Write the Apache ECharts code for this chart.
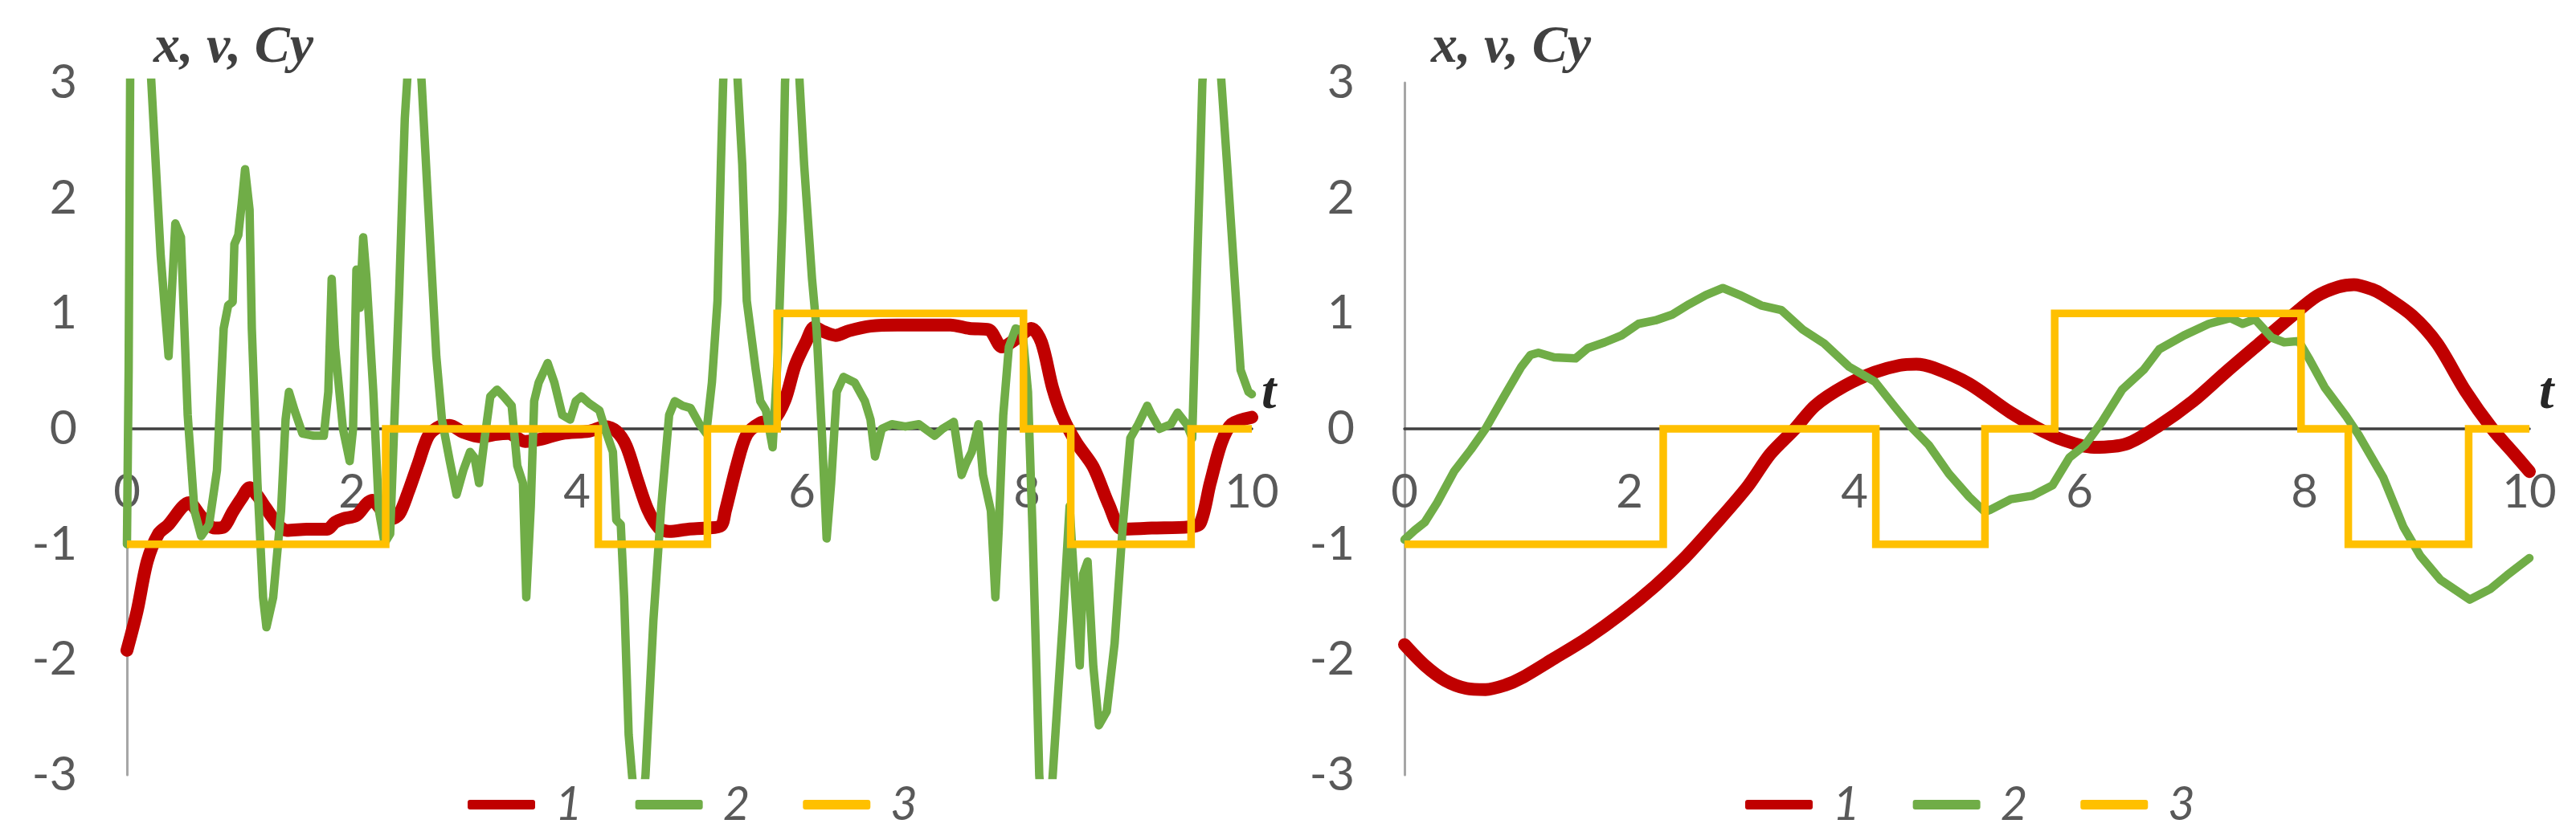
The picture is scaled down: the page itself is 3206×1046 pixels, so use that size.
<!DOCTYPE html>
<html><head><meta charset="utf-8">
<script src="https://cdn.jsdelivr.net/npm/echarts@6/dist/echarts.min.js"></script>
<style>html,body{margin:0;padding:0;background:#fff}#c{width:3206px;height:1046px}</style>
</head><body><div id="c"></div>
<script>
// ---- data (t, value) ----
const seriesNames = ['1', '2', '3'];
const xTickStep = 2;
const yTickStep = 1;

// Left panel, series 1 (x)
const leftX = [[0,-1.92],[0.09,-1.58],[0.18,-1.15],[0.28,-0.91],[0.37,-0.83],[0.49,-0.68],[0.55,-0.64],[0.66,-0.76],[0.78,-0.86],[0.86,-0.85],[0.94,-0.72],[1.02,-0.6],[1.09,-0.51],[1.16,-0.58],[1.23,-0.68],[1.35,-0.84],[1.42,-0.88],[1.6,-0.87],[1.78,-0.87],[1.85,-0.81],[1.92,-0.78],[2.04,-0.75],[2.13,-0.65],[2.18,-0.62],[2.26,-0.7],[2.35,-0.78],[2.42,-0.74],[2.5,-0.55],[2.59,-0.3],[2.68,-0.06],[2.78,0.02],[2.87,0.03],[2.99,-0.03],[3.15,-0.07],[3.27,-0.05],[3.39,-0.04],[3.54,-0.11],[3.68,-0.09],[3.87,-0.04],[4.11,-0.02],[4.25,0.02],[4.35,-0.02],[4.44,-0.15],[4.54,-0.45],[4.63,-0.7],[4.73,-0.86],[4.82,-0.89],[4.99,-0.87],[5.15,-0.86],[5.28,-0.84],[5.32,-0.71],[5.42,-0.32],[5.51,-0.05],[5.63,0.05],[5.75,0.08],[5.85,0.25],[5.94,0.55],[6.04,0.76],[6.11,0.88],[6.2,0.84],[6.3,0.81],[6.42,0.85],[6.61,0.89],[6.85,0.9],[7.32,0.9],[7.49,0.87],[7.66,0.86],[7.78,0.71],[7.92,0.79],[8.04,0.87],[8.13,0.75],[8.23,0.35],[8.32,0.1],[8.44,-0.12],[8.59,-0.33],[8.73,-0.66],[8.85,-0.87],[9.11,-0.86],[9.44,-0.85],[9.54,-0.82],[9.63,-0.47],[9.73,-0.12],[9.82,0.04],[10,0.1]];

// Left panel, series 2 (v)
const leftV = [[0,-1.0],[0.015,0.5],[0.03,3.3],[0.1,4.2],[0.2,3.3],[0.217,3.0],[0.30,1.5],[0.37,0.63],[0.43,1.78],[0.48,1.66],[0.54,0.12],[0.6,-0.71],[0.66,-0.93],[0.73,-0.83],[0.8,-0.36],[0.86,0.87],[0.9,1.07],[0.94,1.1],[0.955,1.6],[0.99,1.68],[1.02,1.95],[1.05,2.25],[1.09,1.9],[1.11,0.87],[1.16,-0.47],[1.21,-1.46],[1.24,-1.72],[1.3,-1.46],[1.37,-0.71],[1.41,0.08],[1.44,0.32],[1.49,0.16],[1.56,-0.04],[1.66,-0.06],[1.75,-0.06],[1.79,0.32],[1.82,1.3],[1.85,0.71],[1.92,0],[1.98,-0.28],[2.01,0],[2.04,1.38],[2.07,1.05],[2.10,1.66],[2.13,1.3],[2.19,0.32],[2.24,-0.71],[2.29,-0.99],[2.34,-0.91],[2.42,1.18],[2.47,2.69],[2.49,3.0],[2.55,4.0],[2.62,3.0],[2.68,1.9],[2.75,0.63],[2.8,0.08],[2.87,-0.28],[2.93,-0.57],[2.99,-0.36],[3.05,-0.2],[3.09,-0.25],[3.13,-0.47],[3.18,-0.08],[3.23,0.28],[3.29,0.34],[3.35,0.28],[3.42,0.2],[3.47,-0.32],[3.52,-0.47],[3.55,-1.46],[3.59,-0.67],[3.62,0.24],[3.66,0.4],[3.74,0.57],[3.8,0.4],[3.87,0.12],[3.94,0.08],[3.99,0.24],[4.04,0.28],[4.11,0.22],[4.2,0.16],[4.25,0],[4.32,-0.2],[4.35,-0.79],[4.39,-0.83],[4.42,-1.46],[4.46,-2.65],[4.49,-3.0],[4.55,-3.6],[4.61,-3.0],[4.68,-1.66],[4.75,-0.67],[4.82,0.12],[4.87,0.24],[4.94,0.2],[5.01,0.18],[5.09,0.04],[5.15,-0.04],[5.2,0.4],[5.25,1.11],[5.28,2.29],[5.3,3.0],[5.36,4.2],[5.43,3.0],[5.47,2.29],[5.51,1.11],[5.59,0.51],[5.63,0.24],[5.68,0.16],[5.74,-0.16],[5.79,0.71],[5.83,1.9],[5.85,3.0],[5.92,4.2],[5.98,3.0],[6.02,2.29],[6.09,1.3],[6.13,0.87],[6.18,-0.08],[6.22,-0.95],[6.26,-0.47],[6.31,0.32],[6.37,0.45],[6.47,0.4],[6.56,0.24],[6.61,0.08],[6.65,-0.24],[6.71,0],[6.8,0.04],[6.92,0.02],[7.04,0.04],[7.18,-0.06],[7.25,0],[7.35,0.06],[7.42,-0.4],[7.46,-0.3],[7.51,-0.2],[7.57,0.04],[7.61,-0.4],[7.68,-0.71],[7.72,-1.46],[7.75,-0.87],[7.79,0.12],[7.84,0.71],[7.9,0.87],[7.96,0.85],[8.01,0.32],[8.05,-0.87],[8.09,-2.25],[8.11,-3.0],[8.17,-3.8],[8.23,-3.0],[8.32,-1.66],[8.38,-0.67],[8.42,-1.3],[8.47,-2.05],[8.5,-1.26],[8.54,-1.15],[8.59,-2.05],[8.64,-2.57],[8.71,-2.45],[8.78,-1.86],[8.85,-0.87],[8.92,-0.08],[8.99,0.04],[9.07,0.2],[9.11,0.12],[9.18,0],[9.28,0.04],[9.34,0.14],[9.42,0.04],[9.47,-0.08],[9.51,1.3],[9.54,2.29],[9.56,3.0],[9.645,4.2],[9.73,3.0],[9.78,2.29],[9.82,1.7],[9.9,0.51],[9.97,0.32],[10,0.3]];

// Right panel, series 1 (x)
const rightX = [[0,-1.87],[0.18,-2.05],[0.36,-2.18],[0.55,-2.25],[0.72,-2.26],[0.9,-2.22],[1.04,-2.16],[1.33,-1.99],[1.63,-1.81],[1.93,-1.6],[2.23,-1.36],[2.49,-1.12],[2.76,-0.83],[3.05,-0.5],[3.25,-0.22],[3.47,0.0],[3.65,0.2],[3.91,0.37],[4.18,0.49],[4.4,0.55],[4.55,0.56],[4.7,0.53],[5.02,0.39],[5.39,0.14],[5.76,-0.06],[6.0,-0.14],[6.13,-0.16],[6.42,-0.13],[6.71,0.03],[7.01,0.24],[7.3,0.49],[7.6,0.74],[7.89,0.98],[8.11,1.15],[8.3,1.23],[8.44,1.25],[8.6,1.21],[8.7,1.16],[8.96,0.98],[9.18,0.74],[9.43,0.33],[9.67,0.0],[9.85,-0.2],[10,-0.37]];

// Right panel, series 2 (v)
const rightV = [[0,-0.96],[0.09,-0.88],[0.18,-0.81],[0.29,-0.64],[0.44,-0.37],[0.59,-0.18],[0.72,0],[0.89,0.29],[1.04,0.54],[1.12,0.64],[1.19,0.66],[1.33,0.62],[1.52,0.61],[1.63,0.7],[1.78,0.75],[1.93,0.81],[2.08,0.91],[2.23,0.94],[2.38,0.99],[2.53,1.08],[2.68,1.16],[2.83,1.22],[2.98,1.16],[3.17,1.07],[3.35,1.03],[3.54,0.86],[3.73,0.74],[3.95,0.54],[4.18,0.41],[4.36,0.19],[4.51,0.01],[4.66,-0.14],[4.84,-0.39],[5.02,-0.59],[5.16,-0.72],[5.21,-0.7],[5.39,-0.61],[5.58,-0.58],[5.76,-0.49],[5.91,-0.25],[6.05,-0.14],[6.2,0.06],[6.38,0.34],[6.57,0.51],[6.71,0.69],[6.93,0.81],[7.15,0.91],[7.34,0.96],[7.45,0.91],[7.56,0.95],[7.71,0.79],[7.82,0.75],[7.95,0.76],[8.04,0.61],[8.18,0.36],[8.37,0.11],[8.48,-0.05],[8.7,-0.42],[8.88,-0.85],[9.03,-1.1],[9.21,-1.31],[9.47,-1.48],[9.65,-1.39],[9.8,-1.27],[10,-1.12]];

// Both panels, series 3 (Cy): value held from t until next switch
const controlCy = [[0,-1],[2.3,0],[4.19,-1],[5.16,0],[5.78,1],[7.97,0],[8.39,-1],[9.46,0],[10,0]];

// ---- chart ----
const labelFont = 'Lato, "Open Sans", "Noto Sans", sans-serif';
const titleFont = '"Liberation Serif", "DejaVu Serif", serif';
const RED = '#C00000', GREEN = '#70AD47', YELLOW = '#FFC000';
const PLOT_H = 862;

function makeX(i) {
  return {
    type: 'value', gridIndex: i, min: 0, max: 10, interval: xTickStep,
    position: 'bottom', offset: -PLOT_H / 2,
    axisLine: { onZero: false, lineStyle: { color: '#404040', width: 3.5 } },
    axisTick: { show: false }, splitLine: { show: false },
    axisLabel: { fontFamily: labelFont, fontSize: 58, color: '#595959', margin: 50 },
    name: 't', nameLocation: 'end', nameGap: 12,
    nameTextStyle: { fontFamily: titleFont, fontStyle: 'italic', fontWeight: 'bold', fontSize: 66, color: '#262626', verticalAlign: 'bottom', align: 'left', padding: [0, 0, 10, 0] }
  };
}
function makeY(i) {
  return {
    type: 'value', gridIndex: i, min: -3, max: 3, interval: yTickStep,
    axisLine: { show: true, onZero: false, lineStyle: { color: '#A6A6A6', width: 3 } },
    axisTick: { show: false }, splitLine: { show: false },
    axisLabel: { fontFamily: labelFont, fontSize: 59, color: '#595959', margin: 62 },
    name: 'x, v, Cy', nameLocation: 'end', nameGap: 10,
    nameTextStyle: { fontFamily: titleFont, fontStyle: 'italic', fontWeight: 'bold', fontSize: 66, color: '#404040', align: 'left', verticalAlign: 'bottom', padding: [0, 0, 0, 33] }
  };
}
function lineSeries(name, data, idx, color, width, extra) {
  return Object.assign({
    name, type: 'line', data, xAxisIndex: idx, yAxisIndex: idx,
    symbol: 'none', clip: true, animation: false,
    lineStyle: { color, width, cap: 'round', join: 'round' },
    itemStyle: { color }
  }, extra || {});
}
function makeLegend(left) {
  return {
    data: seriesNames.map(n => ({ name: n, icon: 'roundRect' })),
    left, top: 968, orient: 'horizontal',
    itemWidth: 84, itemHeight: 12, itemGap: 66,
    textStyle: { fontFamily: labelFont, fontStyle: 'italic', fontSize: 58, color: '#595959', padding: [0, 0, 0, 20] }
  };
}

const chart = echarts.init(document.getElementById('c'));
chart.setOption({
  animation: false,
  backgroundColor: '#fff',
  grid: [
    { left: 158, top: 103, width: 1400, height: PLOT_H },
    { left: 1748, top: 103, width: 1400, height: PLOT_H }
  ],
  xAxis: [makeX(0), makeX(1)],
  yAxis: [makeY(0), makeY(1)],
  legend: [makeLegend(577), makeLegend(2167)],
  series: [
    lineSeries(seriesNames[0], leftX, 0, RED, 16, { smooth: 0.3, z: 2 }),
    lineSeries(seriesNames[1], leftV, 0, GREEN, 10.5, { z: 3 }),
    lineSeries(seriesNames[2], controlCy, 0, YELLOW, 9.5, { step: 'end', z: 4, lineStyle: { color: YELLOW, width: 9.5, join: 'miter', cap: 'butt' } }),
    lineSeries(seriesNames[0], rightX, 1, RED, 16, { smooth: 0.3, z: 2 }),
    lineSeries(seriesNames[1], rightV, 1, GREEN, 10.5, { z: 3 }),
    lineSeries(seriesNames[2], controlCy, 1, YELLOW, 9.5, { step: 'end', z: 4, lineStyle: { color: YELLOW, width: 9.5, join: 'miter', cap: 'butt' } })
  ]
});
</script></body></html>
